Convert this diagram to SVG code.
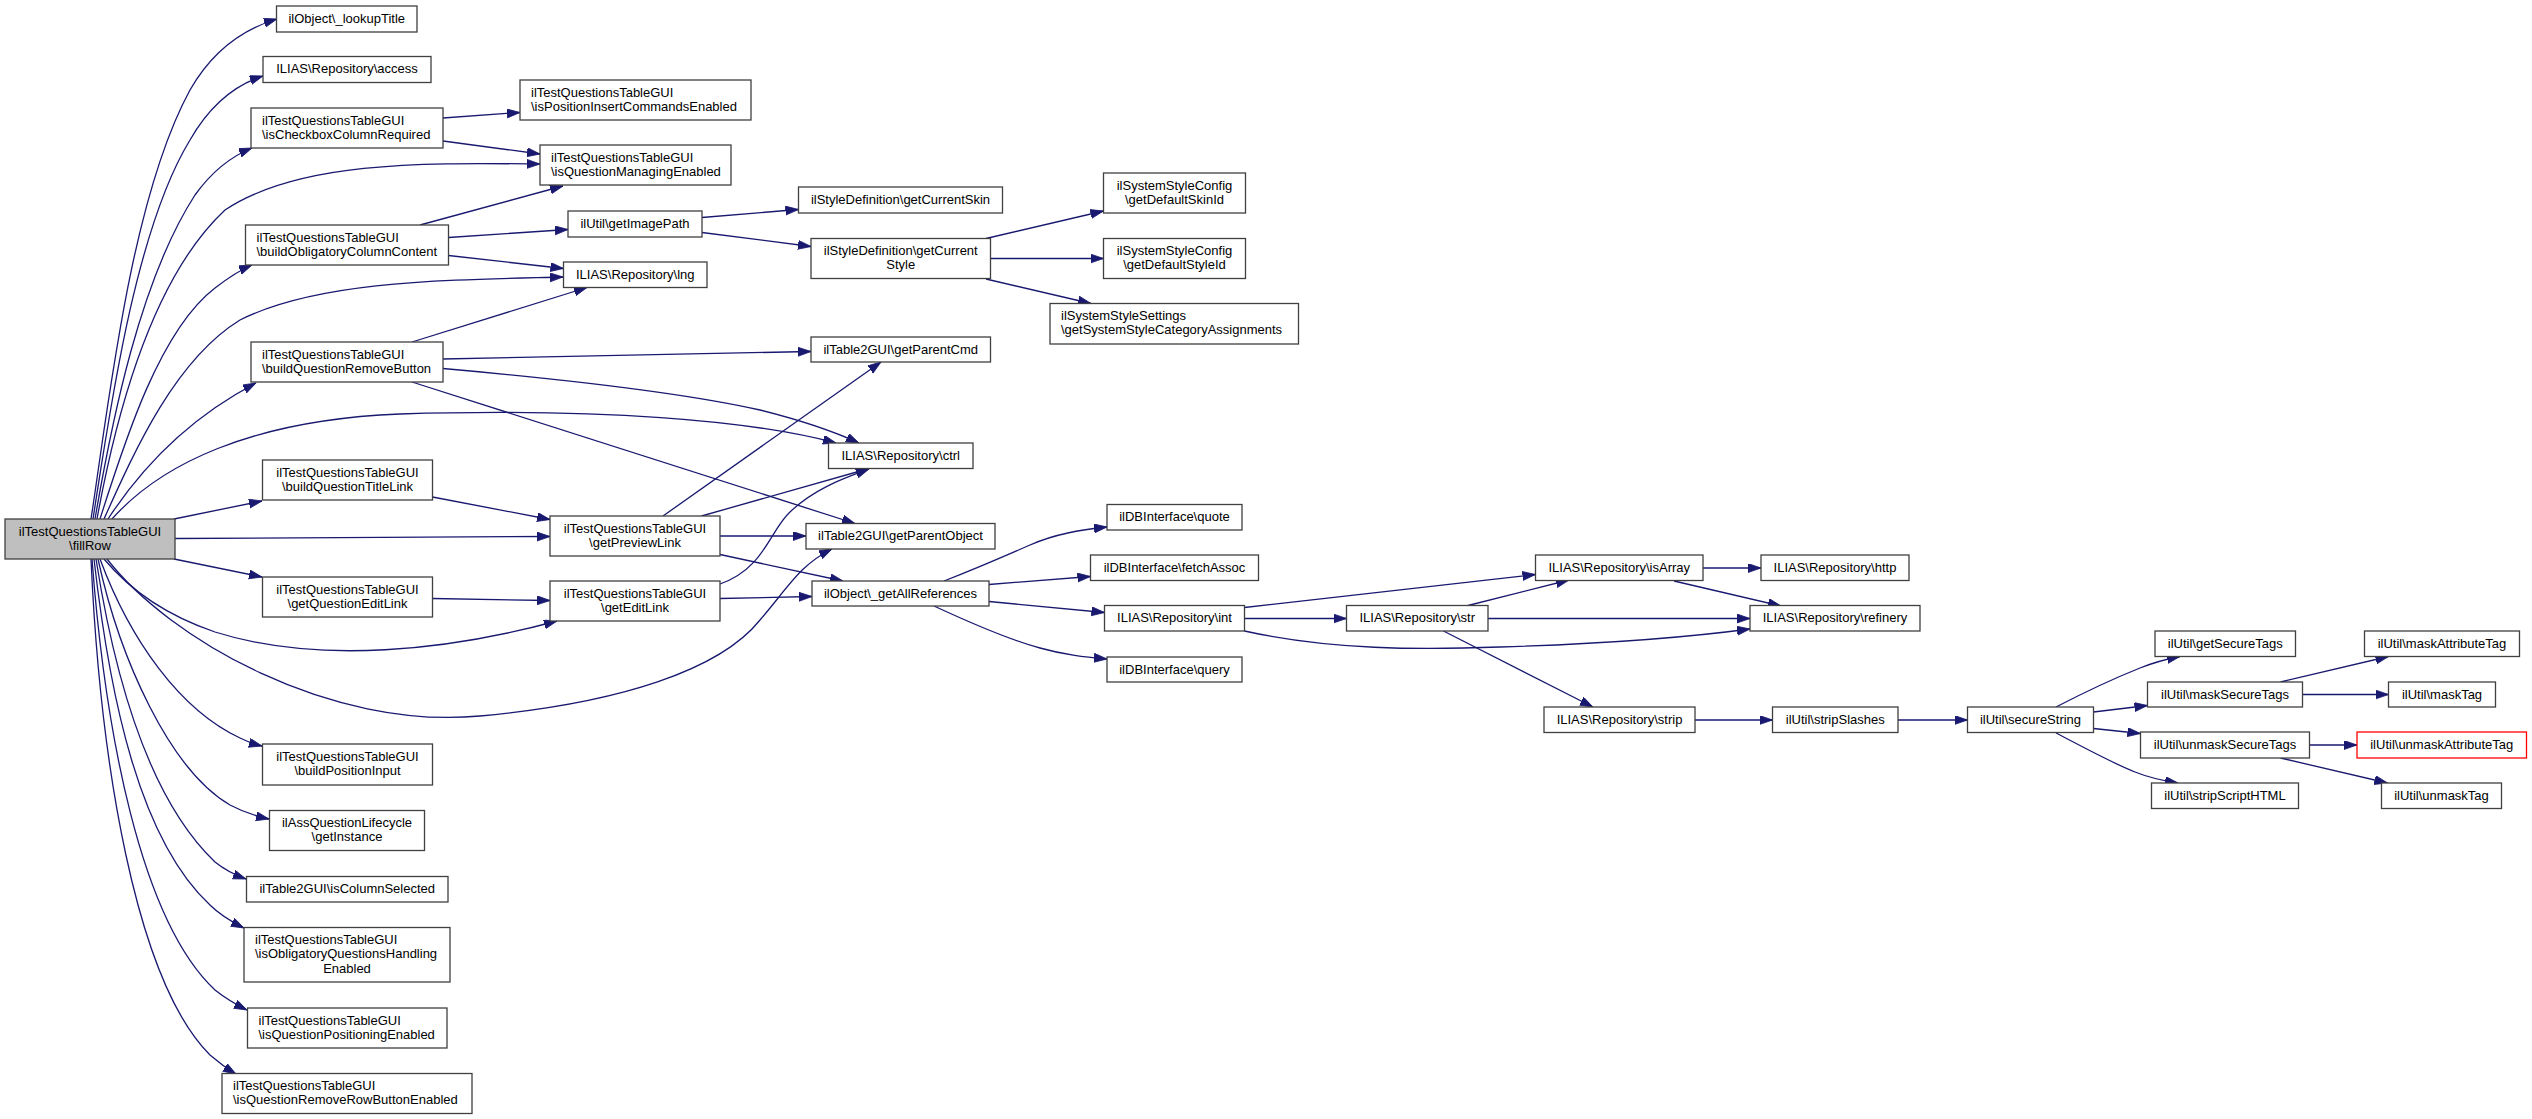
<svg xmlns="http://www.w3.org/2000/svg" width="2532" height="1119" viewBox="0 0 2532 1119">
<style>
.n rect{fill:#ffffff;stroke:#404040;stroke-width:1.3}
.n.root rect{fill:#bfbfbf}
.n.red rect{stroke:#ff0000}
text{font-family:"Liberation Sans",Arial,Helvetica,sans-serif;font-size:13px;fill:#000000}
.m{text-anchor:middle}
#edges path{fill:none;stroke:#191970;stroke-width:1.3;marker-end:url(#arr)}
</style>
<defs>
<marker id="arr" markerUnits="userSpaceOnUse" markerWidth="14" markerHeight="10" refX="13" refY="4.5" orient="auto">
<path d="M0,0 L13,4.5 L0,9 z" fill="#191970" stroke="#191970" stroke-width="0.8"/>
</marker>
</defs>
<rect x="0" y="0" width="2532" height="1119" fill="#ffffff"/>
<g id="edges">
<path d="M91,519 C108,410 130,200 190,90 C210,55 240,30 277,19"/>
<path d="M93,519 C110,410 135,230 190,140 C210,105 235,85 263,76"/>
<path d="M95,519 C112,420 140,280 195,195 C213,170 232,156 252,148"/>
<path d="M97,519 C115,420 150,280 225,210 C300,160 430,163 540,164"/>
<path d="M100,519 C125,440 160,330 215,288 C228,278 240,270 252,265"/>
<path d="M104,519 C135,450 175,360 240,320 C320,280 450,280 563,277"/>
<path d="M108,519 C140,470 185,420 256,383"/>
<path d="M112,519 C160,465 250,420 400,414 C600,408 750,420 836,443"/>
<path d="M174,519 L262,501"/>
<path d="M175,538.5 L550,536.5"/>
<path d="M174,559 L262,577"/>
<path d="M104,559 C130,590 165,615 215,632 C320,665 450,650 557,621"/>
<path d="M107,559 C170,640 330,730 480,716 C620,703 720,670 760,620 C790,585 800,565 832,549"/>
<path d="M100,559 C130,640 180,710 240,738 C248,742 254,744 262,746"/>
<path d="M98,559 C120,660 170,770 230,805 C245,813 255,816 269,819"/>
<path d="M96,559 C115,680 150,800 215,862 C225,870 235,875 246,879"/>
<path d="M94,559 C110,700 140,840 210,905 C220,915 232,922 244,928"/>
<path d="M92,559 C105,730 140,920 215,990 C225,998 235,1004 247,1010"/>
<path d="M91,559 C100,760 135,980 210,1055 C218,1062 226,1068 236,1074"/>
<path d="M443,118 L520,112.5"/>
<path d="M443,141 L540,154"/>
<path d="M420,225 L563,186"/>
<path d="M448.5,237.5 L568,229.5"/>
<path d="M448.5,255.5 L563.5,268.5"/>
<path d="M412,342 L587,287.5"/>
<path d="M443,359 L811,351.5"/>
<path d="M443,368.5 C550,378 680,392 760,410 C800,420 835,432 859,443"/>
<path d="M412,382 L855,523.5"/>
<path d="M702,217.5 L798.5,209.5"/>
<path d="M702,232.5 L811,246.5"/>
<path d="M986,238.5 L1103.5,211"/>
<path d="M990.5,258.5 L1103.5,258.5"/>
<path d="M986,279 L1091,303.5"/>
<path d="M432.5,497 L550,519.5"/>
<path d="M663,516 L881,362"/>
<path d="M701.5,516 L869,468.5"/>
<path d="M720,536 L806,536"/>
<path d="M720,554.5 L843,581"/>
<path d="M432.5,598.5 L550,600.5"/>
<path d="M720,584 C765,568 770,530 790,512 C815,488 845,478 869,469"/>
<path d="M720,598.5 L812,596.5"/>
<path d="M944,581 C980,567 1005,556 1030,545 C1055,534 1080,530 1107,527"/>
<path d="M989,584.5 L1090.5,576.5"/>
<path d="M989,601.5 L1104.5,612.5"/>
<path d="M934,606 C975,625 1010,640 1040,648 C1065,655 1085,657 1107,659"/>
<path d="M1244.5,607.5 L1535.5,574.5"/>
<path d="M1244.5,618.5 L1346.5,618.5"/>
<path d="M1244.5,631 C1330,650 1420,650 1500,647 C1600,644 1690,637 1750,629"/>
<path d="M1703,568 L1761,568"/>
<path d="M1674,581 L1781,606"/>
<path d="M1468,605.5 L1569,580"/>
<path d="M1488,618.5 L1750,618.5"/>
<path d="M1443.5,631 L1593,707"/>
<path d="M1695,720 L1772.5,720"/>
<path d="M1898,720 L1967.5,720"/>
<path d="M2056,707 C2085,692 2115,678 2140,668 C2155,662 2167,659 2180,656.5"/>
<path d="M2093.5,712 L2147.5,705.5"/>
<path d="M2093.5,728.5 L2140.5,733.5"/>
<path d="M2056,733 C2085,748 2110,762 2135,772 C2150,778 2165,781 2178,783"/>
<path d="M2280.5,682 L2388.5,656.5"/>
<path d="M2302.5,694.5 L2388.5,694.5"/>
<path d="M2309.5,745 L2357,745"/>
<path d="M2280.5,758 L2387.5,783"/>
</g>
<g id="fillRow" class="n root"><rect x="5" y="519" width="170" height="40"/><text class="m" x="90" y="535.5">ilTestQuestionsTableGUI</text><text class="m" x="90" y="549.5">\fillRow</text></g>
<g id="lookupTitle" class="n"><rect x="276.5" y="6" width="140.5" height="26"/><text class="m" x="346.75" y="22.5">ilObject\_lookupTitle</text></g>
<g id="access" class="n"><rect x="263" y="56.5" width="168" height="26"/><text class="m" x="347" y="73">ILIAS\Repository\access</text></g>
<g id="isCheckboxColumnRequired" class="n"><rect x="251" y="108" width="192" height="40"/><text x="262" y="124.5">ilTestQuestionsTableGUI</text><text x="262" y="138.5">\isCheckboxColumnRequired</text></g>
<g id="isPositionInsertCommandsEnabled" class="n"><rect x="520" y="80" width="231" height="40"/><text x="531" y="96.5">ilTestQuestionsTableGUI</text><text x="531" y="110.5">\isPositionInsertCommandsEnabled</text></g>
<g id="isQuestionManagingEnabled" class="n"><rect x="540" y="145" width="191" height="40"/><text x="551" y="161.5">ilTestQuestionsTableGUI</text><text x="551" y="175.5">\isQuestionManagingEnabled</text></g>
<g id="getImagePath" class="n"><rect x="568" y="211" width="134" height="26"/><text class="m" x="635" y="227.5">ilUtil\getImagePath</text></g>
<g id="buildObligatoryColumnContent" class="n"><rect x="245.5" y="225" width="203" height="40"/><text x="256.5" y="241.5">ilTestQuestionsTableGUI</text><text x="256.5" y="255.5">\buildObligatoryColumnContent</text></g>
<g id="lng" class="n"><rect x="563.5" y="262" width="143.5" height="25.5"/><text class="m" x="635.25" y="278.5">ILIAS\Repository\lng</text></g>
<g id="buildQuestionRemoveButton" class="n"><rect x="251" y="342" width="192" height="40"/><text x="262" y="358.5">ilTestQuestionsTableGUI</text><text x="262" y="372.5">\buildQuestionRemoveButton</text></g>
<g id="getCurrentSkin" class="n"><rect x="798.5" y="187" width="204" height="26"/><text class="m" x="900.5" y="203.5">ilStyleDefinition\getCurrentSkin</text></g>
<g id="getCurrentStyle" class="n"><rect x="811" y="238.5" width="179.5" height="40"/><text class="m" x="900.75" y="255">ilStyleDefinition\getCurrent</text><text class="m" x="900.75" y="269">Style</text></g>
<g id="getDefaultSkinId" class="n"><rect x="1103.5" y="173" width="142" height="40"/><text class="m" x="1174.5" y="189.5">ilSystemStyleConfig</text><text class="m" x="1174.5" y="203.5">\getDefaultSkinId</text></g>
<g id="getDefaultStyleId" class="n"><rect x="1103.5" y="238.5" width="142" height="40"/><text class="m" x="1174.5" y="255">ilSystemStyleConfig</text><text class="m" x="1174.5" y="269">\getDefaultStyleId</text></g>
<g id="getSystemStyleCategoryAssignments" class="n"><rect x="1050" y="303.5" width="248.5" height="40.5"/><text x="1061" y="320">ilSystemStyleSettings</text><text x="1061" y="334">\getSystemStyleCategoryAssignments</text></g>
<g id="getParentCmd" class="n"><rect x="811" y="337" width="179.5" height="25"/><text class="m" x="900.75" y="353.5">ilTable2GUI\getParentCmd</text></g>
<g id="buildQuestionTitleLink" class="n"><rect x="262.5" y="460" width="170" height="40"/><text class="m" x="347.5" y="476.5">ilTestQuestionsTableGUI</text><text class="m" x="347.5" y="490.5">\buildQuestionTitleLink</text></g>
<g id="getPreviewLink" class="n"><rect x="550" y="516" width="170" height="40"/><text class="m" x="635" y="532.5">ilTestQuestionsTableGUI</text><text class="m" x="635" y="546.5">\getPreviewLink</text></g>
<g id="getQuestionEditLink" class="n"><rect x="262.5" y="577" width="170" height="40"/><text class="m" x="347.5" y="593.5">ilTestQuestionsTableGUI</text><text class="m" x="347.5" y="607.5">\getQuestionEditLink</text></g>
<g id="getEditLink" class="n"><rect x="550" y="581" width="170" height="40"/><text class="m" x="635" y="597.5">ilTestQuestionsTableGUI</text><text class="m" x="635" y="611.5">\getEditLink</text></g>
<g id="ctrl" class="n"><rect x="828.5" y="443" width="144.5" height="25.5"/><text class="m" x="900.75" y="459.5">ILIAS\Repository\ctrl</text></g>
<g id="getParentObject" class="n"><rect x="806" y="523.5" width="189" height="25.5"/><text class="m" x="900.5" y="540">ilTable2GUI\getParentObject</text></g>
<g id="getAllReferences" class="n"><rect x="812" y="581" width="177" height="25"/><text class="m" x="900.5" y="597.5">ilObject\_getAllReferences</text></g>
<g id="quote" class="n"><rect x="1107" y="504.5" width="135" height="25.5"/><text class="m" x="1174.5" y="521">ilDBInterface\quote</text></g>
<g id="fetchAssoc" class="n"><rect x="1090.5" y="555" width="168" height="25.5"/><text class="m" x="1174.5" y="571.5">ilDBInterface\fetchAssoc</text></g>
<g id="int" class="n"><rect x="1104.5" y="605.5" width="140" height="25.5"/><text class="m" x="1174.5" y="622">ILIAS\Repository\int</text></g>
<g id="query" class="n"><rect x="1107" y="657" width="135" height="25"/><text class="m" x="1174.5" y="673.5">ilDBInterface\query</text></g>
<g id="isArray" class="n"><rect x="1535.5" y="555" width="167.5" height="25.5"/><text class="m" x="1619.25" y="571.5">ILIAS\Repository\isArray</text></g>
<g id="http" class="n"><rect x="1761" y="555" width="148" height="25.5"/><text class="m" x="1835" y="571.5">ILIAS\Repository\http</text></g>
<g id="str" class="n"><rect x="1346.5" y="605.5" width="141.5" height="25.5"/><text class="m" x="1417.25" y="622">ILIAS\Repository\str</text></g>
<g id="refinery" class="n"><rect x="1750" y="605.5" width="170" height="25.5"/><text class="m" x="1835" y="622">ILIAS\Repository\refinery</text></g>
<g id="strip" class="n"><rect x="1544" y="707" width="151" height="25.5"/><text class="m" x="1619.5" y="723.5">ILIAS\Repository\strip</text></g>
<g id="stripSlashes" class="n"><rect x="1772.5" y="707" width="125.5" height="25.5"/><text class="m" x="1835.25" y="723.5">ilUtil\stripSlashes</text></g>
<g id="secureString" class="n"><rect x="1967.5" y="707" width="126" height="25.5"/><text class="m" x="2030.5" y="723.5">ilUtil\secureString</text></g>
<g id="getSecureTags" class="n"><rect x="2155" y="631" width="140.5" height="25.5"/><text class="m" x="2225.25" y="647.5">ilUtil\getSecureTags</text></g>
<g id="maskSecureTags" class="n"><rect x="2147.5" y="682" width="155" height="25"/><text class="m" x="2225" y="698.5">ilUtil\maskSecureTags</text></g>
<g id="maskAttributeTag" class="n"><rect x="2364.5" y="631" width="155" height="25.5"/><text class="m" x="2442" y="647.5">ilUtil\maskAttributeTag</text></g>
<g id="maskTag" class="n"><rect x="2388.5" y="682" width="107" height="25"/><text class="m" x="2442" y="698.5">ilUtil\maskTag</text></g>
<g id="unmaskSecureTags" class="n"><rect x="2140.5" y="732" width="169" height="26"/><text class="m" x="2225" y="748.5">ilUtil\unmaskSecureTags</text></g>
<g id="unmaskAttributeTag" class="n red"><rect x="2357" y="732" width="169.5" height="26"/><text class="m" x="2441.75" y="748.5">ilUtil\unmaskAttributeTag</text></g>
<g id="stripScriptHTML" class="n"><rect x="2151.5" y="783" width="147" height="25.5"/><text class="m" x="2225" y="799.5">ilUtil\stripScriptHTML</text></g>
<g id="unmaskTag" class="n"><rect x="2381.5" y="783" width="120" height="25.5"/><text class="m" x="2441.5" y="799.5">ilUtil\unmaskTag</text></g>
<g id="buildPositionInput" class="n"><rect x="262.5" y="744" width="170" height="41"/><text class="m" x="347.5" y="760.5">ilTestQuestionsTableGUI</text><text class="m" x="347.5" y="774.5">\buildPositionInput</text></g>
<g id="getInstance" class="n"><rect x="269.5" y="810.5" width="155" height="40"/><text class="m" x="347" y="827">ilAssQuestionLifecycle</text><text class="m" x="347" y="841">\getInstance</text></g>
<g id="isColumnSelected" class="n"><rect x="246.5" y="876.5" width="201.5" height="25.5"/><text class="m" x="347.25" y="893">ilTable2GUI\isColumnSelected</text></g>
<g id="isObligatoryQuestionsHandlingEnabled" class="n"><rect x="244" y="927.5" width="206" height="54.5"/><text x="255" y="943.5">ilTestQuestionsTableGUI</text><text x="255" y="958">\isObligatoryQuestionsHandling</text><text class="m" x="347" y="972.5">Enabled</text></g>
<g id="isQuestionPositioningEnabled" class="n"><rect x="247.5" y="1008" width="199.5" height="40"/><text x="258.5" y="1024.5">ilTestQuestionsTableGUI</text><text x="258.5" y="1038.5">\isQuestionPositioningEnabled</text></g>
<g id="isQuestionRemoveRowButtonEnabled" class="n"><rect x="222" y="1073.5" width="250" height="40"/><text x="233" y="1090">ilTestQuestionsTableGUI</text><text x="233" y="1104">\isQuestionRemoveRowButtonEnabled</text></g>
</svg>
